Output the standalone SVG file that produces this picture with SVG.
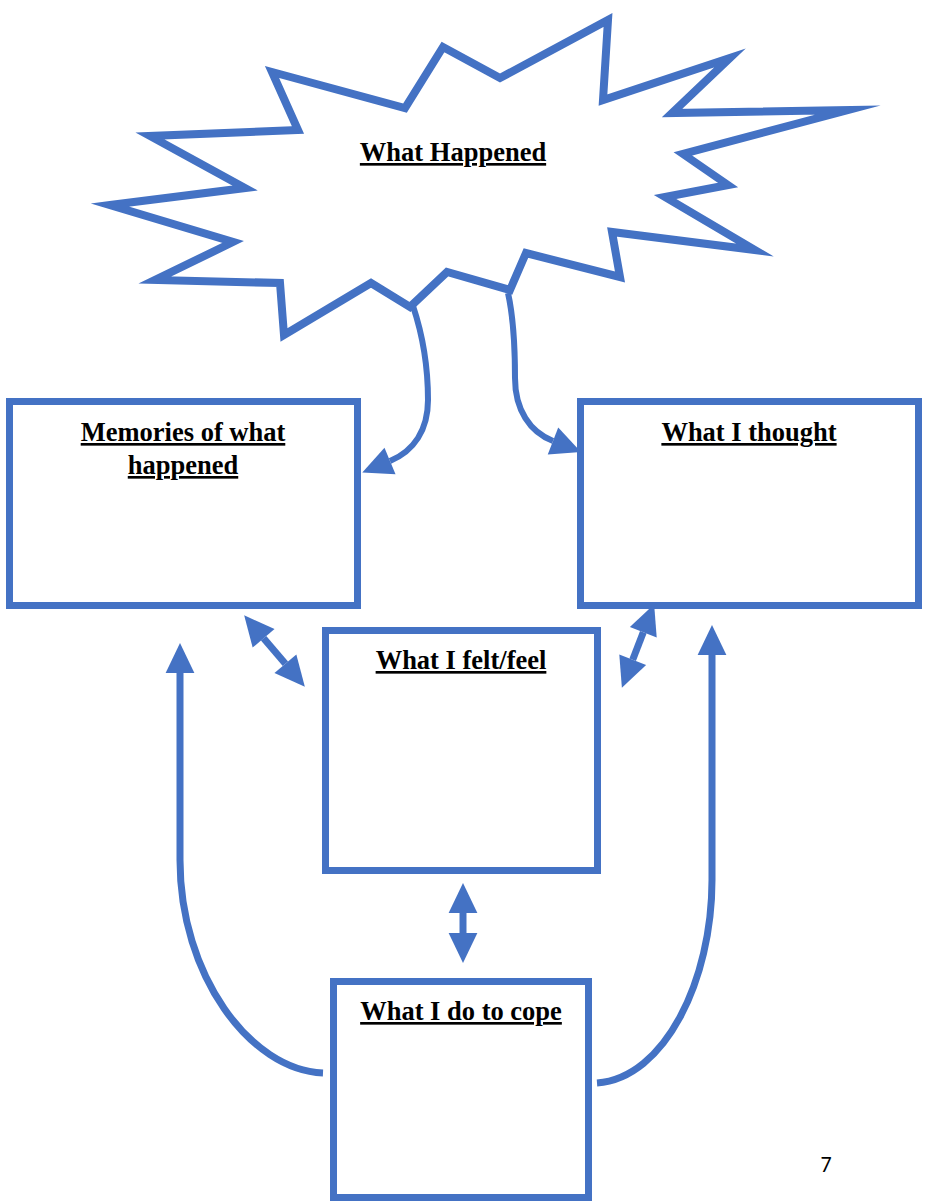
<svg xmlns="http://www.w3.org/2000/svg" width="926" height="1202" viewBox="0 0 926 1202">
<defs>
<style>
.box{fill:#fff;stroke:#4472C4;stroke-width:7}
.burst{fill:#fff;stroke:#4472C4;stroke-width:8;stroke-linejoin:miter;stroke-miterlimit:10}
.lbl{font-family:"Liberation Serif","Times New Roman",serif;font-weight:bold;font-size:26.5px;fill:#000;text-anchor:middle;text-decoration:underline}
.con{fill:none;stroke:#4472C4;stroke-width:7}
.thin{fill:none;stroke:#4472C4;stroke-width:6}
</style>
<marker id="ah" markerUnits="userSpaceOnUse" markerWidth="30" markerHeight="30" viewBox="0 -12 24 24" refX="0" refY="0" orient="auto-start-reverse" overflow="visible">
<path d="M0,-11.5 L24,0 L0,11.5 z" fill="#4472C4"/>
</marker>
</defs>
<rect width="926" height="1202" fill="#fff"/>
<g id="what-happened">
<polygon class="burst" points="110,205 245,188 150,136 298,130 272,72 405,108 443,47 500,78 608,20 603,100 730,58 672,113 848,110 683,154 728,185 665,197 755,250 612,232 620,277 526,253 510,290 447,272 410,307 371,283 284,335 280,283 155,280 233,242"/>
<text class="lbl" x="453" y="161">What Happened</text>
</g>
<g id="memories">
<rect class="box" x="9.5" y="401.5" width="348" height="204"/>
<text class="lbl" x="183" y="441">Memories of what</text>
<text class="lbl" x="183" y="474">happened</text>
</g>
<g id="thought">
<rect class="box" x="580.5" y="401.5" width="338" height="204"/>
<text class="lbl" x="749" y="441">What I thought</text>
</g>
<g id="felt">
<rect class="box" x="325.5" y="630.5" width="272" height="240"/>
<text class="lbl" x="461" y="669">What I felt/feel</text>
</g>
<g id="cope">
<rect class="box" x="333.5" y="981.5" width="255" height="216"/>
<text class="lbl" x="461" y="1020">What I do to cope</text>
</g>
<g id="connectors">
<path class="thin" d="M413,306 C426,345 428,375 428,400 C428,430 414,451 390,461" marker-end="url(#ah)"/>
<path class="thin" d="M508,293 C514,320 515,350 515,378 C515,410 530,432 553,441" marker-end="url(#ah)"/>
<line class="con" x1="263.6" y1="638.2" x2="285.4" y2="663.8" marker-start="url(#ah)" marker-end="url(#ah)"/>
<line class="con" x1="643.3" y1="632.3" x2="632.7" y2="659.7" marker-start="url(#ah)" marker-end="url(#ah)"/>
<line class="con" x1="463" y1="913" x2="463" y2="933" stroke-width="9" marker-start="url(#ah)" marker-end="url(#ah)"/>
<path class="con" d="M323,1073 C250,1070 180,975 180,860 L180,673" marker-end="url(#ah)"/>
<path class="con" d="M597,1083 C665,1078 712,980 712,880 L712,655" marker-end="url(#ah)"/>
</g>
<text x="826" y="1172" font-family="Carlito,'Liberation Sans',sans-serif" font-size="22" fill="#000" text-anchor="middle">7</text>
</svg>
